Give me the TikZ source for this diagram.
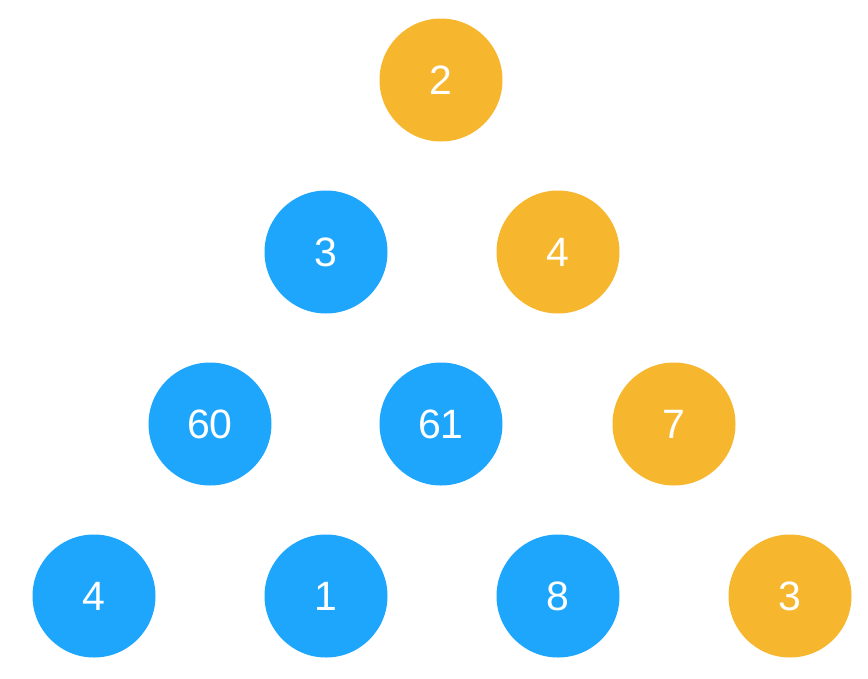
\documentclass[tikz,border=0pt]{standalone}
\usepackage{fontspec}
\setmainfont{Liberation Sans}
\definecolor{orng}{HTML}{F6B72E}
\definecolor{blu}{HTML}{1EA6FD}
\begin{document}
\begin{tikzpicture}[x=1pt,y=-1pt,
  ball/.style={circle,minimum size=123pt,inner sep=0pt,text=white,font=\fontsize{41}{41}\selectfont},
  ob/.style={ball,fill=orng},
  bb/.style={ball,fill=blu}]
\useasboundingbox (0,0) rectangle (868,678);
\node[ob] (a) at (441,80) {2};
\node[bb] (b1) at (326,252) {3};
\node[ob] (b2) at (558,252) {4};
\node[bb] (c1) at (210,424) {60};
\node[bb] (c2) at (441,424) {61};
\node[ob] (c3) at (674,424) {7};
\node[bb] (d1) at (94,596) {4};
\node[bb] (d2) at (326,596) {1};
\node[bb] (d3) at (558,596) {8};
\node[ob] (d4) at (790,596) {3};
\end{tikzpicture}
\end{document}
